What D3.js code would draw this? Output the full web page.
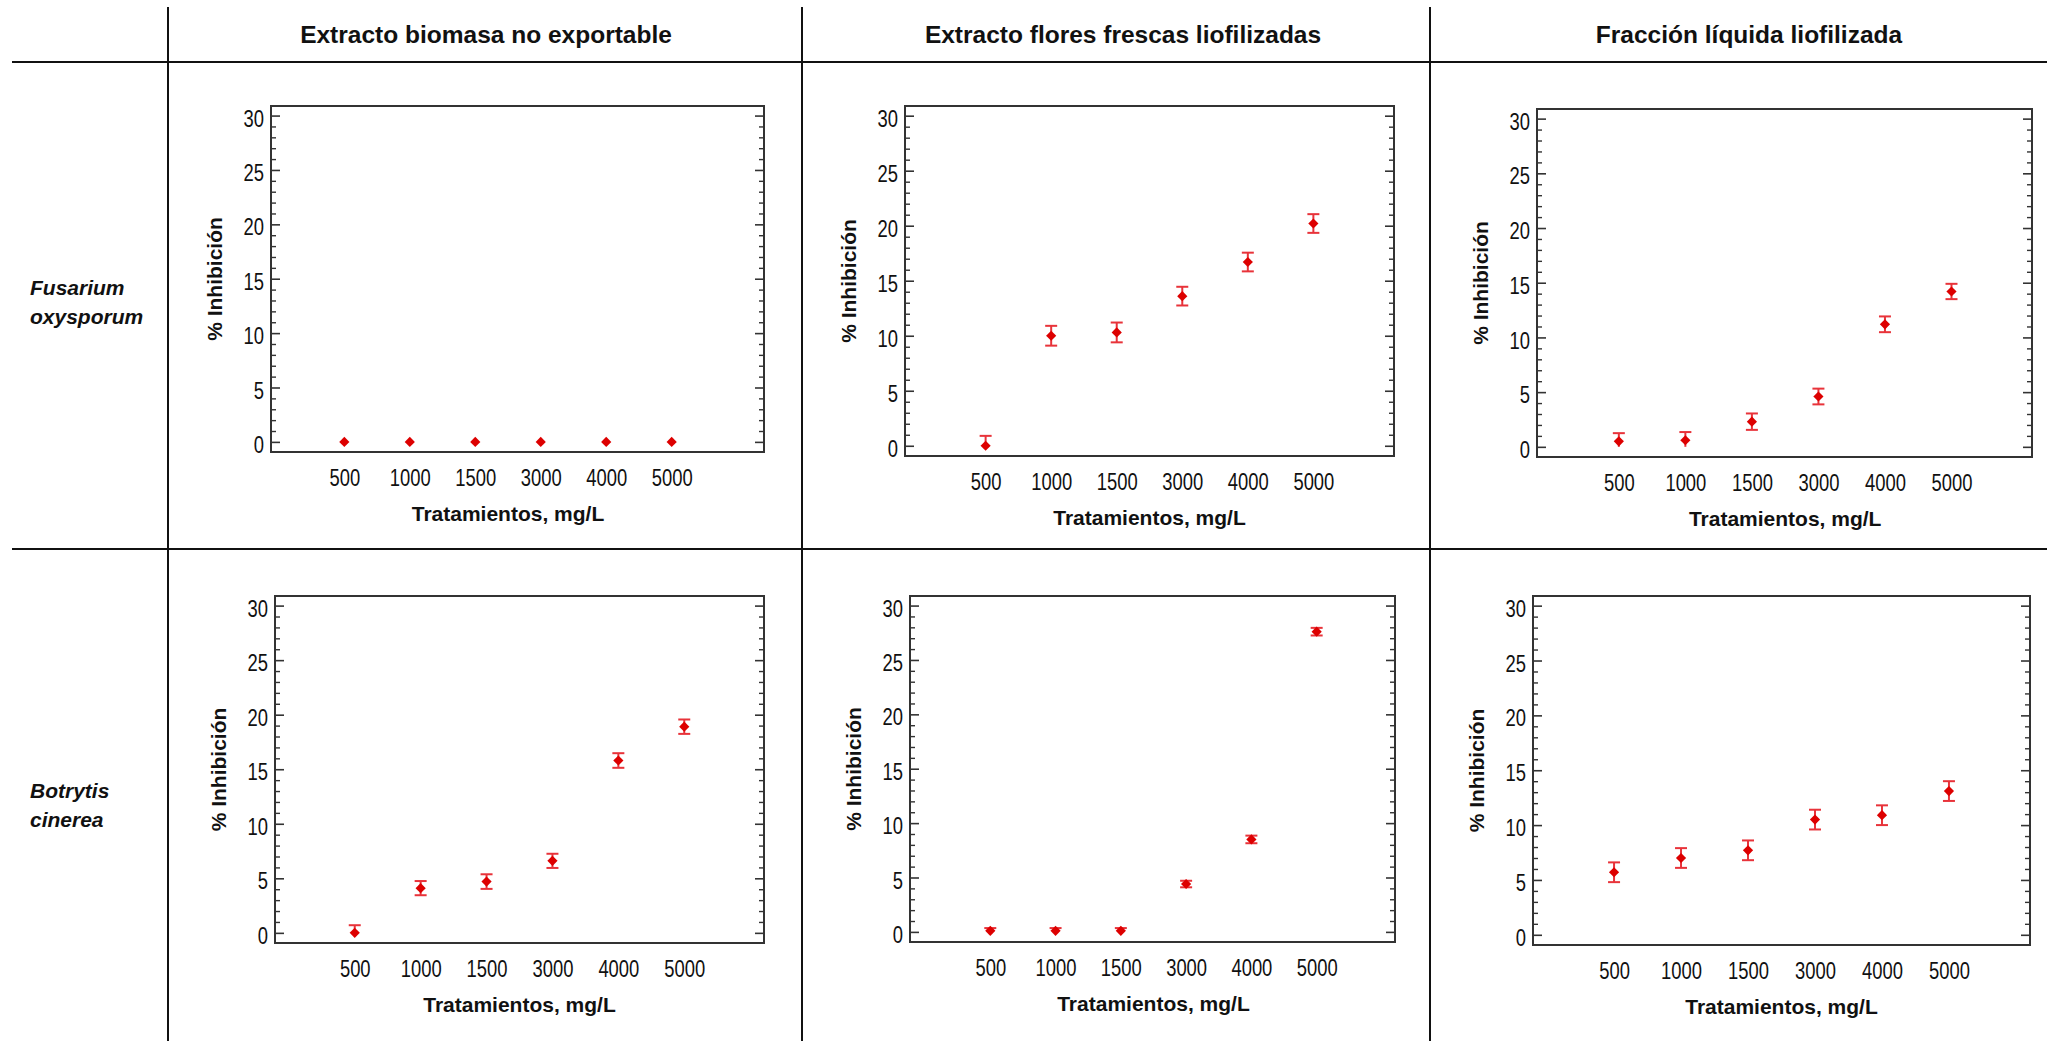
<!DOCTYPE html>
<meta charset="utf-8">
<style>
  body { margin: 0; background: #fff; }
  text { font-family: "Liberation Sans", Arial, sans-serif; fill: #111; }
</style>
<body>
  <div id="chart"></div>
  <script src="https://d3js.org/d3.v7.min.js"></script>
  <script>
    // tratamientos, eje x
    var categories = ["500", "1000", "1500", "3000", "4000", "5000"];
    var yTicks = [0, 5, 10, 15, 20, 25, 30];
    var columns = ["Extracto biomasa no exportable", "Extracto flores frescas liofilizadas", "Fracción líquida liofilizada"];
    var rows = [["Fusarium", "oxysporum"], ["Botrytis", "cinerea"]];

    // % inhibicion (media) y barra de error, Fusarium oxysporum
    var fusBiomasa = [0, 0, 0, 0, 0, 0];
    var fusBiomasaErr = [0, 0, 0, 0, 0, 0];
    var fusFlores = [0.0, 10.0, 10.3, 13.6, 16.7, 20.2];
    var fusFloresErr = [0.9, 0.9, 0.9, 0.85, 0.85, 0.85];
    var fusFraccion = [0.5, 0.6, 2.3, 4.6, 11.2, 14.2];
    var fusFraccionErr = [0.75, 0.75, 0.75, 0.72, 0.72, 0.7];

    // Botrytis cinerea
    var botBiomasa = [0.0, 4.1, 4.7, 6.6, 15.8, 18.9];
    var botBiomasaErr = [0.7, 0.65, 0.67, 0.65, 0.67, 0.66];
    var botFlores = [0.1, 0.1, 0.1, 4.4, 8.5, 27.6];
    var botFloresErr = [0.25, 0.25, 0.25, 0.3, 0.35, 0.35];
    var botFraccion = [5.7, 7.0, 7.7, 10.5, 10.9, 13.1];
    var botFraccionErr = [0.9, 0.9, 0.9, 0.9, 0.9, 0.9];

    var width = 2047,
      height = 1041;

    // caja de cada grafico: [izq, der, arriba, abajo], padding en pasos de categoria
    var panels = [
      { mean: fusBiomasa, err: fusBiomasaErr, box: [271, 764, 106, 452], pad: [1.12, 1.41] },
      { mean: fusFlores, err: fusFloresErr, box: [905, 1394, 106, 456], pad: [1.23, 1.23] },
      { mean: fusFraccion, err: fusFraccionErr, box: [1537, 2032, 109, 457], pad: [1.23, 1.21] },
      { mean: botBiomasa, err: botBiomasaErr, box: [275, 764, 596, 943], pad: [1.21, 1.21] },
      { mean: botFlores, err: botFloresErr, box: [910, 1395, 596, 942], pad: [1.23, 1.2] },
      { mean: botFraccion, err: botFraccionErr, box: [1533, 2030, 596, 945], pad: [1.21, 1.21] }
    ];

    var svg = d3.select("#chart")
      .append("svg")
      .attr("width", width)
      .attr("height", height);

    svg.append("rect")
      .attr("width", width)
      .attr("height", height)
      .style("fill", "#fff");

    //********* tabla ****************
    var hLines = [62, 549];
    var vLines = [168, 802, 1430];

    svg.selectAll(".hline")
      .data(hLines)
      .enter().append("line")
      .attr("x1", 12)
      .attr("x2", width)
      .attr("y1", function(d) { return d; })
      .attr("y2", function(d) { return d; })
      .style("stroke", "#111")
      .style("stroke-width", 2);

    svg.selectAll(".vline")
      .data(vLines)
      .enter().append("line")
      .attr("x1", function(d) { return d; })
      .attr("x2", function(d) { return d; })
      .attr("y1", 7)
      .attr("y2", height)
      .style("stroke", "#111")
      .style("stroke-width", 2);

    var titleX = [486, 1123, 1749];
    svg.selectAll(".coltitle")
      .data(columns)
      .enter().append("text")
      .attr("x", function(d, i) { return titleX[i]; })
      .attr("y", 43)
      .attr("text-anchor", "middle")
      .style("font-size", "24.5px")
      .style("font-weight", "bold")
      .text(function(d) { return d; });

    var rowY = [295, 798];
    rows.forEach(function(r, i) {
      svg.append("text")
        .attr("x", 30)
        .attr("y", rowY[i])
        .style("font-size", "21px")
        .style("font-weight", "bold")
        .style("font-style", "italic")
        .selectAll("tspan")
        .data(r)
        .enter().append("tspan")
        .attr("x", 30)
        .attr("dy", function(d, j) { return j ? 29 : 0; })
        .text(function(d) { return d; });
    });

    //********* graficos ****************
    var minorTicks = d3.range(0, 31).filter(function(v) { return v % 5 !== 0; });

    panels.forEach(function(p) {
      var left = p.box[0], right = p.box[1], top = p.box[2], bottom = p.box[3];

      var x = d3.scaleLinear()
        .domain([-p.pad[0], categories.length - 1 + p.pad[1]])
        .range([left, right]);

      var y = d3.scaleLinear()
        .domain([-0.93, 30.88])
        .range([bottom, top]);

      var g = svg.append("g");

      // ticks hacia dentro, izquierda y derecha
      [[left, d3.axisRight], [right, d3.axisLeft]].forEach(function(a) {
        g.append("g")
          .attr("transform", "translate(" + a[0] + ",0)")
          .attr("color", "#333")
          .call(a[1](y).tickValues(yTicks).tickSize(9).tickFormat(""))
          .call(function(s) { s.select(".domain").remove(); })
          .selectAll("line").style("stroke-width", 1.6);
        g.append("g")
          .attr("transform", "translate(" + a[0] + ",0)")
          .attr("color", "#333")
          .call(a[1](y).tickValues(minorTicks).tickSize(5).tickFormat(""))
          .call(function(s) { s.select(".domain").remove(); })
          .selectAll("line").style("stroke-width", 1.4);
      });

      // etiquetas eje y
      g.append("g")
        .attr("class", "cond")
        .attr("transform", "translate(" + left + ",0)")
        .call(d3.axisLeft(y).tickValues(yTicks).tickSize(0).tickPadding(7))
        .call(function(s) { s.select(".domain").remove(); })
        .attr("font-family", null)
        .attr("font-size", null)
        .selectAll("text")
        .attr("dy", "0.46em")
        .style("font-size", "23px");

      // etiquetas eje x
      g.append("g")
        .attr("class", "cond")
        .attr("transform", "translate(0," + bottom + ")")
        .call(d3.axisBottom(x)
          .tickValues(d3.range(categories.length))
          .tickFormat(function(i) { return categories[i]; })
          .tickSize(0)
          .tickPadding(18))
        .call(function(s) { s.select(".domain").remove(); })
        .attr("font-family", null)
        .attr("font-size", null)
        .selectAll("text")
        .style("font-size", "23px");

      // titulos de ejes
      g.append("text")
        .attr("x", x((categories.length - 1) / 2))
        .attr("y", bottom + 69)
        .attr("text-anchor", "middle")
        .style("font-size", "21px")
        .style("font-weight", "bold")
        .text("Tratamientos, mg/L");

      g.append("text")
        .attr("transform", "translate(" + (left - 49) + "," + ((top + bottom) / 2) + ") rotate(-90)")
        .attr("text-anchor", "middle")
        .style("font-size", "21px")
        .style("font-weight", "bold")
        .text("% Inhibición");

      // barras de error
      var pts = p.mean.map(function(m, i) {
        return { i: i, m: m, e: p.err[i] };
      });

      var bars = g.selectAll(".err")
        .data(pts.filter(function(d) { return d.e > 0; }))
        .enter().append("g")
        .style("stroke", "#e8333a")
        .style("stroke-width", 2);

      bars.append("line")
        .attr("x1", function(d) { return x(d.i); })
        .attr("x2", function(d) { return x(d.i); })
        .attr("y1", function(d) { return y(Math.max(0, d.m - d.e)); })
        .attr("y2", function(d) { return y(d.m + d.e); });

      bars.append("line")
        .attr("x1", function(d) { return x(d.i) - 6; })
        .attr("x2", function(d) { return x(d.i) + 6; })
        .attr("y1", function(d) { return y(d.m + d.e); })
        .attr("y2", function(d) { return y(d.m + d.e); });

      bars.filter(function(d) { return d.m - d.e >= 0; })
        .append("line")
        .attr("x1", function(d) { return x(d.i) - 6; })
        .attr("x2", function(d) { return x(d.i) + 6; })
        .attr("y1", function(d) { return y(d.m - d.e); })
        .attr("y2", function(d) { return y(d.m - d.e); });

      // puntos (rombos)
      g.selectAll(".pt")
        .data(pts)
        .enter().append("path")
        .attr("d", d3.symbol().type(d3.symbolSquare).size(52))
        .attr("transform", function(d) {
          return "translate(" + x(d.i) + "," + y(d.m) + ") rotate(45)";
        })
        .style("fill", "#dd0000");

      // marco
      g.append("rect")
        .attr("x", left)
        .attr("y", top)
        .attr("width", right - left)
        .attr("height", bottom - top)
        .style("fill", "none")
        .style("stroke", "#333")
        .style("stroke-width", 2);
    });

    // numeros estrechos, como en la figura
    svg.selectAll(".cond text").each(function() {
      var w = this.getComputedTextLength();
      d3.select(this)
        .attr("textLength", w * 0.8)
        .attr("lengthAdjust", "spacingAndGlyphs");
    });
  </script>
